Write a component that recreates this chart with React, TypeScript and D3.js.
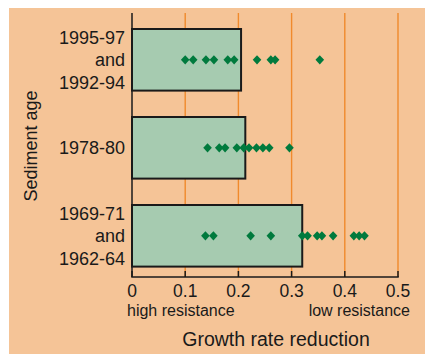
import React from "react";
import * as d3 from "d3";

const categories = ["1995-97 and 1992-94", "1978-80", "1969-71 and 1962-64"];
const categoryLines = [["1995-97", "and", "1992-94"], ["1978-80"], ["1969-71", "and", "1962-64"]];
const barValues = [0.205, 0.213, 0.32];
const points1 = [0.1, 0.115, 0.139, 0.154, 0.18, 0.192, 0.235, 0.261, 0.269, 0.353];
const points2 = [0.142, 0.164, 0.175, 0.197, 0.21, 0.22, 0.234, 0.246, 0.258, 0.296];
const points3 = [0.138, 0.153, 0.223, 0.261, 0.32, 0.33, 0.348, 0.357, 0.378, 0.417, 0.427, 0.437];
const pointSeries = [points1, points2, points3];
const xTicks = [0, 0.1, 0.2, 0.3, 0.4, 0.5];

const W = 425;
const H = 354;
const BG = "#F5C497";
const FONT = "'Liberation Sans', Arial, Helvetica, sans-serif";

export default function App() {
  const x = d3.scaleLinear().domain([0, 0.5]).range([132, 398]);
  const y = d3.scaleBand<string>().domain(categories).range([29, 266.6]).paddingInner(0.3).paddingOuter(0);
  const axisY = 277;
  const topY = 13;
  const diamond = "M0,-4.6L4.3,0L0,4.6L-4.3,0Z";
  const fmt = (v: number) => (v === 0 ? "0" : d3.format(".1f")(v));

  return (
    <svg width={W} height={H} style={{ position: "absolute", left: 0, top: 0 }} fontFamily={FONT}>
      <rect x={9} y={8} width={W - 9} height={H - 8} fill={BG} />
      {xTicks.filter((t) => t > 0).map((t) => (
        <line key={"g" + t} x1={x(t)} x2={x(t)} y1={topY} y2={axisY} stroke="#F08A2C" strokeWidth={1.4} />
      ))}
      {categories.map((c, i) => (
        <rect key={c} x={x(0)} y={y(c)} width={x(barValues[i]) - x(0)} height={y.bandwidth()}
          fill="#A6CBB0" stroke="#1a1a1a" strokeWidth={2} />
      ))}
      {categories.map((c, i) =>
        pointSeries[i].map((v, j) => (
          <path key={c + j} d={diamond} transform={`translate(${x(v)},${(y(c) as number) + y.bandwidth() / 2})`} fill="#007A3D" />
        ))
      )}
      <line x1={x(0)} x2={x(0)} y1={topY} y2={axisY} stroke="#1a1a1a" strokeWidth={1.5} />
      <line x1={x(0) - 0.75} x2={x(0.5) + 0.75} y1={axisY} y2={axisY} stroke="#1a1a1a" strokeWidth={1.5} />
      {xTicks.map((t) => (
        <g key={"t" + t}>
          <line x1={x(t)} x2={x(t)} y1={axisY} y2={axisY - 6} stroke="#1a1a1a" strokeWidth={1.5} />
          <text x={x(t)} y={296.5} textAnchor="middle" fontSize={17.5} fill="#1a1a1a">{fmt(t)}</text>
        </g>
      ))}
      {categories.map((c, i) => {
        const lines = categoryLines[i];
        const cy = (y(c) as number) + y.bandwidth() / 2;
        const lh = 22.5;
        const start = cy - ((lines.length - 1) * lh) / 2;
        return lines.map((l, k) => (
          <text key={c + k} x={125} y={start + k * lh + 6.5} textAnchor="end" fontSize={18} fill="#1a1a1a">{l}</text>
        ));
      })}
      <text transform="translate(37,146) rotate(-90)" textAnchor="middle" fontSize={18} fill="#1a1a1a">Sediment age</text>
      <text x={127} y={316} fontSize={16} fill="#1a1a1a">high resistance</text>
      <text x={410} y={316} textAnchor="end" fontSize={16} fill="#1a1a1a">low resistance</text>
      <text x={276} y={346} textAnchor="middle" fontSize={19.5} fill="#1a1a1a">Growth rate reduction</text>
    </svg>
  );
}
